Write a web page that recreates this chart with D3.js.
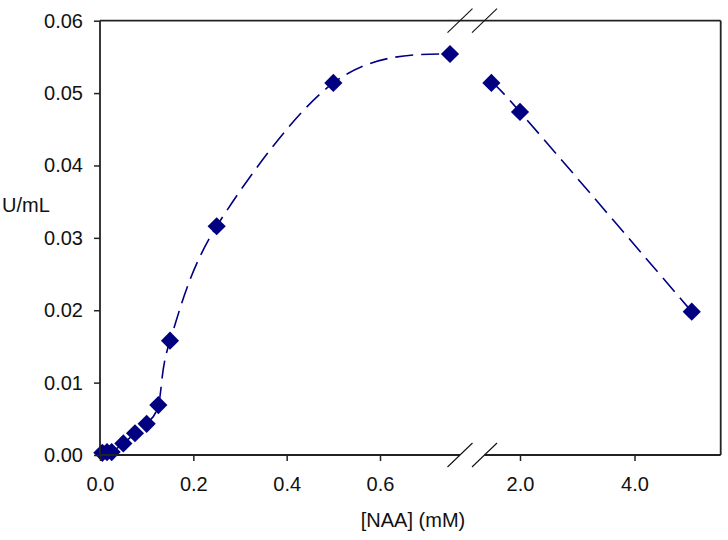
<!DOCTYPE html>
<html>
<head>
<meta charset="utf-8">
<script src="https://cdn.jsdelivr.net/npm/d3@7"></script>
<style>
  body { margin: 0; background: #fff; }
  svg { display: block; }
  text { font-family: "Liberation Sans", Arial, sans-serif; }
</style>
</head>
<body>
<svg id="chart" width="728" height="540"></svg>
<script>
// ---- data ----
const lowConc = [0.005, 0.015, 0.025, 0.05, 0.075, 0.1, 0.125, 0.15, 0.25, 0.5, 0.75];
const lowActivity = [0.0003, 0.0004, 0.0004, 0.0016, 0.0030, 0.0043, 0.0069, 0.0158, 0.0316, 0.0514, 0.0554];
const highConc = [1.5, 2.0, 5.0];
const highActivity = [0.0514, 0.0474, 0.0198];
const xTicksLow = [0.0, 0.2, 0.4, 0.6];
const xTicksHigh = [2.0, 4.0];
const yTicks = [0.00, 0.01, 0.02, 0.03, 0.04, 0.05, 0.06];
const xTitle = "[NAA] (mM)";
const yTitle = "U/mL";

// ---- layout ----
const L = 100, R = 720.7, T = 20.7, B = 455;
const breakA = 460, breakB = 484.5;
const navy = "#000080", axisColor = "#222";
const fontSize = "20px";

const svg = d3.select("#chart");
const y = d3.scaleLinear().domain([0, 0.06]).range([B, T]);
const xLow = d3.scaleLinear().domain([0, 0.6]).range([L, 380]);
const xHigh = d3.scaleLinear().domain([2, 4]).range([520, 634.5]);

// ---- smoothed curve (Hermite/Bezier, Excel-like) ----
function smoothPath(pts, naturalEnd) {
  const n = pts.length;
  const m = pts.map((p, i) => {
    if (i === 0) return [(pts[1][0] - p[0]) / 2, (pts[1][1] - p[1]) / 2];
    if (i === n - 1) return [(p[0] - pts[i - 1][0]) / 2, (p[1] - pts[i - 1][1]) / 2];
    return [(pts[i + 1][0] - pts[i - 1][0]) / 2, (pts[i + 1][1] - pts[i - 1][1]) / 2];
  });
  if (naturalEnd && n > 2) {
    const a = pts[n - 2], b = pts[n - 1], mp = m[n - 2];
    m[n - 1] = [(3 * (b[0] - a[0]) - mp[0]) / 2, (3 * (b[1] - a[1]) - mp[1]) / 2];
  }
  const p = d3.path();
  p.moveTo(pts[0][0], pts[0][1]);
  for (let i = 0; i < n - 1; i++) {
    const a = pts[i], b = pts[i + 1];
    p.bezierCurveTo(a[0] + m[i][0] / 3, a[1] + m[i][1] / 3,
                    b[0] - m[i + 1][0] / 3, b[1] - m[i + 1][1] / 3,
                    b[0], b[1]);
  }
  return p.toString();
}

const lowPts = lowConc.map((c, i) => [xLow(c), y(lowActivity[i])]);
const highPts = highConc.map((c, i) => [xHigh(c), y(highActivity[i])]);

[[lowPts, true], [highPts, false]].forEach(([pts, nat]) => {
  svg.append("path")
    .attr("d", smoothPath(pts, nat))
    .attr("fill", "none")
    .attr("stroke", navy)
    .attr("stroke-width", 1.6)
    .attr("stroke-dasharray", "18,8");
});

// ---- markers ----
const diamond = d3.symbol(d3.symbolSquare, 165);
svg.append("g").selectAll("path")
  .data(lowPts.concat(highPts))
  .join("path")
  .attr("d", diamond)
  .attr("transform", d => `translate(${d[0]},${d[1]}) rotate(45)`)
  .attr("fill", navy);

// ---- frame ----
const frame = svg.append("g").attr("stroke", axisColor).attr("stroke-width", 1.8).attr("fill", "none");
frame.append("line").attr("x1", L).attr("x2", L).attr("y1", T).attr("y2", B);
frame.append("line").attr("x1", R).attr("x2", R).attr("y1", T).attr("y2", B);
frame.append("line").attr("x1", L).attr("x2", R).attr("y1", T).attr("y2", T);
frame.append("line").attr("x1", L).attr("x2", breakA).attr("y1", B).attr("y2", B);
frame.append("line").attr("x1", breakB).attr("x2", R).attr("y1", B).attr("y2", B);

// break marks
const breaks = svg.append("g").attr("stroke", "#111").attr("stroke-width", 1.1);
[T, B].forEach(yy => {
  [breakA, breakB].forEach(xx => {
    breaks.append("line")
      .attr("x1", xx - 12.5).attr("y1", yy + 12)
      .attr("x2", xx + 12.5).attr("y2", yy - 12);
  });
});

// ---- axes ----
function styleAxis(g) {
  g.select(".domain").remove();
  g.selectAll(".tick line").attr("stroke", axisColor).attr("stroke-width", 1.5);
  g.selectAll(".tick text").attr("fill", "#111").style("font-size", fontSize)
    .style("font-family", '"Liberation Sans", Arial, sans-serif');
}
svg.append("g").attr("transform", `translate(${L},0)`)
  .call(d3.axisLeft(y).tickValues(yTicks).tickFormat(d3.format(".2f")).tickSize(6).tickPadding(11))
  .call(styleAxis);
svg.append("g").attr("transform", `translate(0,${B})`)
  .call(d3.axisBottom(xLow).tickValues(xTicksLow).tickFormat(d3.format(".1f")).tickSize(6).tickPadding(16))
  .call(styleAxis);
svg.append("g").attr("transform", `translate(0,${B})`)
  .call(d3.axisBottom(xHigh).tickValues(xTicksHigh).tickFormat(d3.format(".1f")).tickSize(6).tickPadding(16))
  .call(styleAxis);

// ---- titles ----
svg.append("text").attr("x", 413).attr("y", 527).attr("text-anchor", "middle")
  .style("font-size", fontSize).attr("fill", "#111").text(xTitle);
svg.append("text").attr("x", 2).attr("y", 212).attr("text-anchor", "start")
  .style("font-size", fontSize).attr("fill", "#111").text(yTitle);
</script>
</body>
</html>
